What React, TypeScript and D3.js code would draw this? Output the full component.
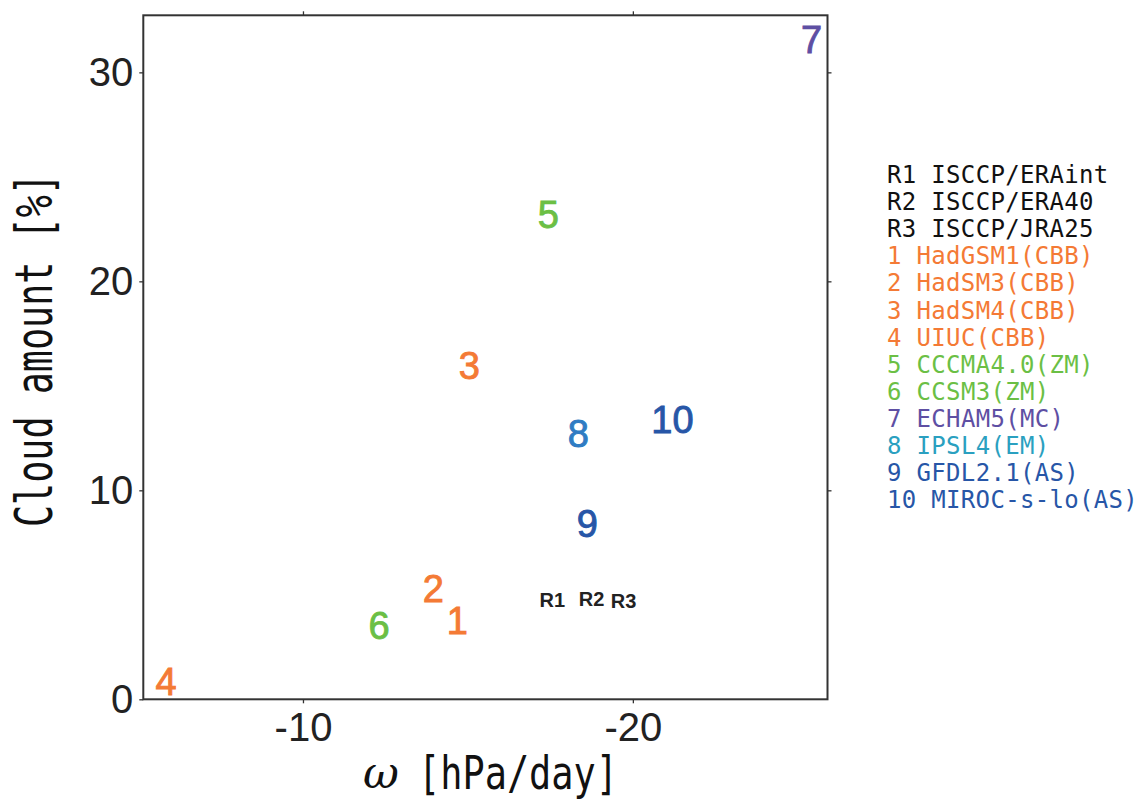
import React, { useEffect, useRef } from 'react';
import * as d3 from 'd3';

// point labels and their positions (omega in hPa/day, cloud amount in %)
const pointLabels = ['R1', 'R2', 'R3', '1', '2', '3', '4', '5', '6', '7', '8', '9', '10'];
const omegaValues = [-17.56, -18.75, -19.72, -14.68, -13.95, -15.04, -5.85, -17.44, -12.31, -25.42, -18.35, -18.62, -21.2];
const cloudValues = [4.75, 4.8, 4.7, 3.8, 5.33, 16.0, 0.88, 23.2, 3.55, 31.6, 12.74, 8.4, 13.4];

const legendLabels = [
  'R1 ISCCP/ERAint',
  'R2 ISCCP/ERA40',
  'R3 ISCCP/JRA25',
  '1 HadGSM1(CBB)',
  '2 HadSM3(CBB)',
  '3 HadSM4(CBB)',
  '4 UIUC(CBB)',
  '5 CCCMA4.0(ZM)',
  '6 CCSM3(ZM)',
  '7 ECHAM5(MC)',
  '8 IPSL4(EM)',
  '9 GFDL2.1(AS)',
  '10 MIROC-s-lo(AS)',
];

const xTicks = [-10, -20];
const yTicks = [0, 10, 20, 30];

const pointColor: Record<string, string> = {
  R1: '#222', R2: '#222', R3: '#222',
  '1': '#f47a35', '2': '#f47a35', '3': '#f47a35', '4': '#f47a35',
  '5': '#6bbf45', '6': '#6bbf45',
  '7': '#5e4fa3',
  '8': '#2f7cc3',
  '9': '#2756a7', '10': '#2756a7',
};
const legendColor: Record<string, string> = {
  ...pointColor,
  R1: '#111', R2: '#111', R3: '#111',
  '8': '#2aa0c0',
};

const W = 1148;
const H = 802;
const left = 143.3, right = 827.5, top = 15.3, bottom = 699.3;

export default function App() {
  const ref = useRef<SVGSVGElement>(null);

  useEffect(() => {
    const svg = d3.select(ref.current);
    svg.selectAll('*').remove();

    const x = d3.scaleLinear().domain([-5.16, -25.9]).range([left, right]);
    const y = d3.scaleLinear().domain([0, 32.73]).range([bottom, top]);

    svg.append('rect')
      .attr('x', left).attr('y', top)
      .attr('width', right - left).attr('height', bottom - top)
      .attr('fill', 'none').attr('stroke', '#333').attr('stroke-width', 2);

    // axes with outward ticks, plain hyphen minus like the original
    const fmt = (d: any) => String(d);
    const tickFont = (g: any) =>
      g.selectAll('text')
        .attr('font-family', '"Liberation Sans", Arial, sans-serif')
        .attr('font-size', 40)
        .attr('fill', '#222');
    const clean = (g: any) => {
      g.select('.domain').remove();
      g.selectAll('line').attr('stroke', '#333').attr('stroke-width', 1.3);
    };

    svg.append('g')
      .attr('transform', `translate(0,${bottom})`)
      .call(d3.axisBottom(x).tickValues(xTicks).tickSize(4).tickPadding(9).tickFormat(fmt))
      .call(clean)
      .call(tickFont);
    svg.append('g')
      .attr('transform', `translate(0,${top})`)
      .call(d3.axisTop(x).tickValues(xTicks).tickSize(4).tickFormat(() => ''))
      .call(clean);
    svg.append('g')
      .attr('transform', `translate(${left},0)`)
      .call(d3.axisLeft(y).tickValues(yTicks).tickSize(4).tickPadding(6).tickFormat(fmt))
      .call(clean)
      .call(tickFont);
    svg.append('g')
      .attr('transform', `translate(${right},0)`)
      .call(d3.axisRight(y).tickValues(yTicks.slice(1)).tickSize(4).tickFormat(() => ''))
      .call(clean);

    // points drawn as their labels
    const pts = pointLabels.map((l, i) => ({ l, ox: omegaValues[i], cy: cloudValues[i] }));
    svg.append('g')
      .selectAll('text')
      .data(pts)
      .join('text')
      .attr('x', (d) => x(d.ox))
      .attr('y', (d) => y(d.cy))
      .attr('dy', '0.36em')
      .attr('text-anchor', 'middle')
      .attr('font-family', '"Liberation Sans", Arial, sans-serif')
      .attr('font-size', (d) => (d.l.startsWith('R') ? 20 : 38))
      .attr('font-weight', (d) => (d.l.startsWith('R') ? 'bold' : 'normal'))
      .attr('fill', (d) => pointColor[d.l])
      .attr('stroke', (d) => pointColor[d.l])
      .attr('stroke-width', (d) => (d.l.startsWith('R') ? 0 : 0.9))
      .text((d) => d.l);

    // legend
    svg.append('g')
      .selectAll('text')
      .data(legendLabels)
      .join('text')
      .attr('x', 887)
      .attr('y', (_, i) => 183 + i * 27.1)
      .attr('font-family', '"DejaVu Sans Mono", monospace')
      .attr('font-size', 24)
      .attr('textLength', (d) => d.length * 14.75)
      .attr('lengthAdjust', 'spacing')
      .attr('fill', (d) => legendColor[d.split(' ')[0]])
      .text((d) => d);

    // axis titles
    svg.append('text')
      .attr('transform', 'translate(52,350) rotate(-90)')
      .attr('text-anchor', 'middle')
      .attr('font-family', '"DejaVu Sans Mono", monospace')
      .attr('font-size', 51)
      .attr('textLength', 354)
      .attr('lengthAdjust', 'spacingAndGlyphs')
      .attr('fill', '#111')
      .text('Cloud amount [%]');

    svg.append('text')
      .attr('x', 381).attr('y', 788)
      .attr('text-anchor', 'middle')
      .attr('font-family', '"DejaVu Serif", serif')
      .attr('font-style', 'italic')
      .attr('font-size', 44)
      .attr('fill', '#111')
      .text('ω');
    svg.append('text')
      .attr('x', 418).attr('y', 789)
      .attr('font-family', '"DejaVu Sans Mono", monospace')
      .attr('font-size', 46)
      .attr('textLength', 200)
      .attr('lengthAdjust', 'spacingAndGlyphs')
      .attr('fill', '#111')
      .text('[hPa/day]');
  }, []);

  return (
    <svg
      ref={ref}
      width={W}
      height={H}
      style={{ position: 'absolute', left: 0, top: 0, background: '#fff' }}
    />
  );
}
